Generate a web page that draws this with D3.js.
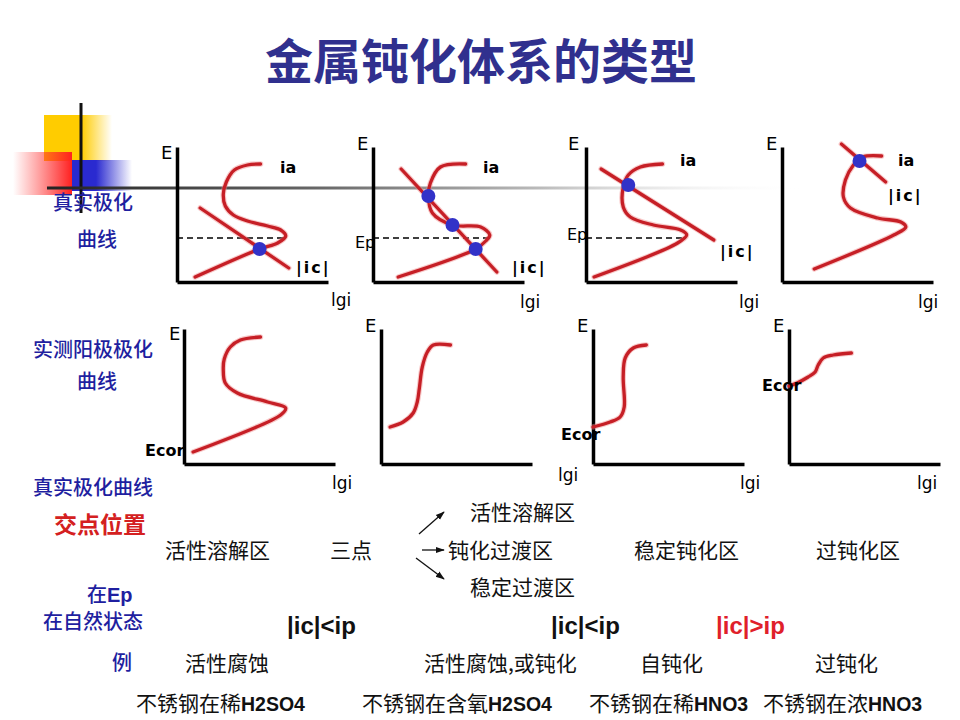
<!DOCTYPE html>
<html><head><meta charset="utf-8">
<script src="https://cdn.jsdelivr.net/npm/d3@7"></script>
<style>body{margin:0;background:#fff}svg{display:block}</style>
</head><body>
<script>
// ---------------- DATA (abstract lgi / E units, axis domain 0..150 x 0..135) ----------------
const title = "金属钝化体系的类型";
// true polarization curves (anodic ia) for the 4 system types
const iaCurves = [
  [[83,118],[70,117],[57,112],[49,100],[46,88],[48,76],[56,67],[70,61],[90,56],[103,52],[108,46],[100,39],[82,33],[18,5]],
  [[92,118],[67,115],[57,99],[55,86],[59,69],[79,57],[107,55],[116,47],[112,41],[102,33],[25,5]],
  [[76,118],[54,115],[42,107],[37,95],[37,75],[44,65],[67,57],[94,52],[100,47],[91,39],[8,5]],
  [[99,126],[80,125],[71,117],[63,102],[61,85],[68,74],[95,64],[118,60],[123,55],[111,47],[32,13]]
];
// cathodic |ic| lines: [start, end]
const icLines = [
  [[23,74],[111,14]],
  [[28,113],[123,10]],
  [[15,113],[127,42]],
  [[59,138],[103,100]]
];
// intersection points
const crossPoints = [
  [[82,33]],
  [[55,86],[79,57],[102,33]],
  [[42,97]],
  [[77,121]]
];
// passivation potential Ep level and extent of dashed line [E, lgi end]
const epLines = [[44,108],[44,115],[44,99],null];
const epLabels = [false,true,true,false];
// measured anodic polarization curves
const measuredCurves = [
  [[76,127],[56,124],[46,117],[40,105],[39,95],[41,81],[53,71],[83,62],[101,56],[96,49],[9,12]],
  [[69,119],[52,119],[46,112],[41,97],[38,75],[36,62],[32,51],[22,42],[9,37]],
  [[53,119],[40,116],[32,106],[30,87],[31,57],[27,47],[17,42],[0,37]],
  [[62,111],[44,109],[34,106],[29,99],[26,92],[19,87],[8,81],[0,78]]
];
const sideLabels = ["真实极化","曲线","实测阳极极化","曲线","真实极化曲线","交点位置","在","Ep","在自然状态","例"];
const regionLabels = ["活性溶解区","三点","钝化过渡区","活性溶解区","稳定过渡区","稳定钝化区","过钝化区"];
const currentLabels = ["|ic|<ip","|ic|<ip","|ic|>ip"];
const resultLabels = ["活性腐蚀","活性腐蚀,或钝化","自钝化","过钝化"];
const exampleCn = ["不锈钢在稀","不锈钢在含氧","不锈钢在稀","不锈钢在浓"];
const exampleChem = ["H2SO4","H2SO4","HNO3","HNO3"];

// ---------------- LAYOUT ----------------
const W=960,H=720;
const svg=d3.select("body").append("svg").attr("width",W).attr("height",H);
const defs=svg.append("defs");
function lg(id,stops,x1,x2){
  const g=defs.append("linearGradient").attr("id",id).attr("x1",x1).attr("x2",x2).attr("y1","0").attr("y2","0");
  stops.forEach(s=>g.append("stop").attr("offset",s[0]).attr("stop-color",s[1]).attr("stop-opacity",s[2]));
}
lg("gy",[["0%","#ffcc00",1],["55%","#ffcc00",1],["100%","#ffcc00",0]],"0","1");
lg("gr",[["0%","#ff3030",0],["100%","#ff2020",1]],"0","1");
lg("gb",[["0%","#2a2ad0",1],["40%","#2a2ad0",1],["100%","#2a2ad0",0]],"0","1");
lg("gl",[["0%","#222",1],["35%","#666",1],["65%","#bbb",1],["100%","#fff",0]],"0","1");

// decoration
svg.append("rect").attr("x",44).attr("y",115).attr("width",68).attr("height",46).attr("fill","url(#gy)");
svg.append("rect").attr("x",72).attr("y",160).attr("width",60).attr("height",31).attr("fill","url(#gb)");
svg.append("rect").attr("x",13).attr("y",152).attr("width",59).attr("height",43).attr("fill","url(#gr)");
svg.append("line").attr("x1",81).attr("x2",81).attr("y1",103).attr("y2",213).attr("stroke","#111").attr("stroke-width",3);
svg.append("rect").attr("x",47).attr("y",186.5).attr("width",760).attr("height",3).attr("fill","url(#gl)");

// title
svg.append("text").attr("x",481).attr("y",62).attr("dy","0.36em").attr("text-anchor","middle")
  .attr("font-family","Noto Sans CJK SC").attr("font-weight","bold").attr("font-size",48)
  .attr("fill","#30308e").text(title);

const RED="#c61f26", BLUE="#3232c8";
const topOrigins=[[177,282],[373,282],[586,282],[782,282]];
const botOrigins=[[184,464],[381,464],[593,464],[789,464]];
const AW=151, AH=135;

function panel(ox,oy){
  const x=d3.scaleLinear().domain([0,150]).range([ox,ox+AW]);
  const y=d3.scaleLinear().domain([0,135]).range([oy,oy-AH]);
  const g=svg.append("g");
  g.append("g").attr("transform",`translate(0,${oy})`).call(d3.axisBottom(x).tickValues([]).tickSizeOuter(0))
    .select(".domain").attr("stroke","#000").attr("stroke-width",3.5);
  g.append("g").attr("transform",`translate(${ox},0)`).call(d3.axisLeft(y).tickValues([]).tickSizeOuter(0))
    .select(".domain").attr("stroke","#000").attr("stroke-width",3.5);
  return {x,y,g};
}
function curve(p,pts){
  const line=d3.line().x(d=>p.x(d[0])).y(d=>p.y(d[1])).curve(d3.curveCatmullRom.alpha(0.5));
  p.g.append("path").attr("d",line(pts)).attr("fill","none").attr("stroke","#f08a8a").attr("stroke-width",5.5).attr("stroke-opacity",0.45).attr("stroke-linecap","round");
  p.g.append("path").attr("d",line(pts)).attr("fill","none").attr("stroke",RED).attr("stroke-width",3.3).attr("stroke-linecap","round");
}
function txt(x,y,s,o={}){
  return svg.append("text").attr("x",x).attr("y",y).attr("dy","0.36em")
    .attr("font-family",o.ff||"DejaVu Sans").attr("font-size",o.fs||17)
    .attr("font-weight",o.fw||"normal").attr("fill",o.fill||"#000")
    .attr("text-anchor",o.anchor||"start").attr("letter-spacing",o.ls||0).text(s);
}

// top row
const topE=[[161,153],[357,144],[568,144],[766,144]];
const topIa=[[280,167],[483,167],[680,160],[898,160]];
const topIc=[[296,267],[512,267],[720,251],[888,195]];
const topLgi=[[331,300],[520,302],[739,302],[918,302]];
const epPos=[null,[355,242],[567,234],null];
topOrigins.forEach((o,i)=>{
  const p=panel(o[0],o[1]);
  if(epLines[i]){
    p.g.append("line").attr("x1",p.x(0)).attr("x2",p.x(epLines[i][1])).attr("y1",p.y(epLines[i][0])).attr("y2",p.y(epLines[i][0]))
      .attr("stroke","#000").attr("stroke-width",1.6).attr("stroke-dasharray","6,4");
  }
  curve(p,iaCurves[i]);
  curve(p,icLines[i]);
  crossPoints[i].forEach(c=>p.g.append("circle").attr("cx",p.x(c[0])).attr("cy",p.y(c[1])).attr("r",7).attr("fill",BLUE));
  txt(topE[i][0],topE[i][1],"E",{fs:18});
  txt(topIa[i][0],topIa[i][1],"ia",{fw:"bold",fs:16});
  txt(topIc[i][0],topIc[i][1],"|ic|",{fw:"bold",fs:16,ls:2});
  txt(topLgi[i][0],topLgi[i][1],"lgi",{fs:17});
  if(epLabels[i]) txt(epPos[i][0],epPos[i][1],"Ep",{fs:16});
});

// bottom row
const botE=[[169,334],[365,326],[577,326],[773,326]];
const botLgi=[[332,483],[558,475],[740,483],[917,483]];
const ecorPos=[[145,450],null,[561,434],[762,385]];
botOrigins.forEach((o,i)=>{
  const p=panel(o[0],o[1]);
  curve(p,measuredCurves[i]);
  txt(botE[i][0],botE[i][1],"E",{fs:18});
  txt(botLgi[i][0],botLgi[i][1],"lgi",{fs:17});
  if(ecorPos[i]) txt(ecorPos[i][0],ecorPos[i][1],"Ecor",{fw:"bold",fs:16});
});

// side labels
const SB="#1f1fa0", CJK="Noto Sans CJK SC";
txt(93,203,sideLabels[0],{ff:CJK,fs:20,fill:SB,anchor:"middle",fw:500});
txt(97,240,sideLabels[1],{ff:CJK,fs:20,fill:SB,anchor:"middle",fw:500});
txt(93,350,sideLabels[2],{ff:CJK,fs:20,fill:SB,anchor:"middle",fw:500});
txt(97,382,sideLabels[3],{ff:CJK,fs:20,fill:SB,anchor:"middle",fw:500});
txt(93,488,sideLabels[4],{ff:CJK,fs:20,fill:SB,anchor:"middle",fw:500});
txt(100,525,sideLabels[5],{ff:CJK,fs:23,fill:"#d42020",anchor:"middle",fw:"bold"});
const ep=txt(87,595,"",{ff:CJK,fs:20,fill:SB,fw:500});
ep.append("tspan").text(sideLabels[6]);
ep.append("tspan").attr("font-family","Liberation Sans").attr("font-weight","bold").text(sideLabels[7]);
txt(93,622,sideLabels[8],{ff:CJK,fs:20,fill:SB,anchor:"middle",fw:500});
txt(112,663,sideLabels[9],{ff:CJK,fs:20,fill:SB,fw:500});

// region labels
const regPos=[[165,550],[330,550],[448,550],[470,512],[470,587],[634,550],[816,550]];
regionLabels.forEach((s,i)=>txt(regPos[i][0],regPos[i][1],s,{ff:CJK,fs:21,fill:"#111"}));
// arrows
defs.append("marker").attr("id","ah").attr("viewBox","0 0 10 10").attr("refX",9).attr("refY",5)
  .attr("markerWidth",7).attr("markerHeight",7).attr("orient","auto")
  .append("path").attr("d","M0,1.5L10,5L0,8.5Z").attr("fill","#111");
[[[419,534],[444,512]],[[422,550],[444,550]],[[416,558],[444,579]]].forEach(a=>
  svg.append("line").attr("x1",a[0][0]).attr("y1",a[0][1]).attr("x2",a[1][0]).attr("y2",a[1][1])
    .attr("stroke","#111").attr("stroke-width",1.3).attr("marker-end","url(#ah)"));

// current comparison
const curPos=[[287,625],[551,625],[716,625]];
currentLabels.forEach((s,i)=>txt(curPos[i][0],curPos[i][1],s,{ff:"Liberation Sans",fw:"bold",fs:24,fill:i===2?"#e0202a":"#111"}));

// results
const resPos=[[185,663],[424,663],[640,663],[815,663]];
resultLabels.forEach((s,i)=>txt(resPos[i][0],resPos[i][1],s,{ff:CJK,fs:21,fill:"#111"}));

// examples
const exPos=[[136,703],[362,703],[589,703],[763,703]];
exampleCn.forEach((s,i)=>{
  const t=txt(exPos[i][0],exPos[i][1],"",{ff:CJK,fs:21,fill:"#111"});
  t.append("tspan").text(s);
  t.append("tspan").attr("font-family","Liberation Sans").attr("font-weight","bold").attr("font-size",19.5).text(exampleChem[i]);
});
</script>
</body></html>
